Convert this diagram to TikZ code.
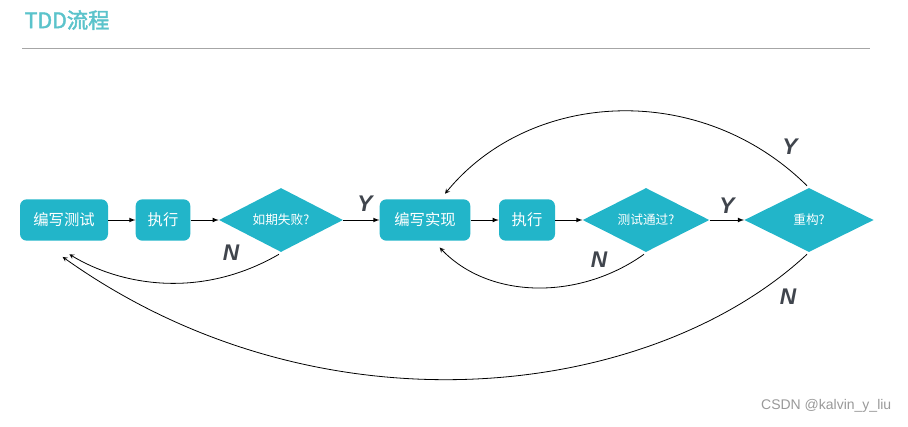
\documentclass[tikz,border=0pt]{standalone}
\usepackage{fontspec}
\setmainfont{Liberation Sans}
\newfontfamily\cjk[AutoFakeBold=2]{Noto Sans CJK SC}
\usetikzlibrary{shapes.geometric}
\definecolor{tddblue}{HTML}{22B5C9}
\definecolor{tddtitle}{HTML}{5BC3CB}
\definecolor{tddgray}{HTML}{40454D}
\tikzset{
  task/.style={fill=tddblue,rounded corners=5pt,minimum height=31pt,text=white,font=\cjk\fontsize{11.5}{12}\selectfont,inner sep=0pt},
  check/.style={diamond,fill=tddblue,aspect=1.95,minimum width=93pt,minimum height=48pt,inner sep=0pt,text=white,font=\cjk\fontsize{9.5}{10}\selectfont},
  yn/.style={font=\bfseries\itshape\fontsize{17}{17}\selectfont,text=tddgray},
  flow/.style={-latex,line width=0.6pt},
  back/.style={-stealth,line width=0.6pt}
}
\begin{document}
\begin{tikzpicture}[x=0.75pt,y=-0.75pt]
	\useasboundingbox (0,0) rectangle (908,426);
	\node[anchor=west,text=tddtitle,font=\cjk\bfseries\fontsize{16}{16}\selectfont] (title) at (20,20) {TDD流程};
	\draw[gray!70,line width=0.6pt] (22,48) -- (870,48);
	\node[task,minimum width=66pt] (test) at (64,220) {编写测试};
	\node[task,minimum width=41pt] (run1) at (163,220) {执行};
	\node[check] (fail) at (281,220) {如期失败?};
	\node[task,minimum width=68pt] (impl) at (425,220) {编写实现};
	\node[task,minimum width=42pt] (run2) at (527,220) {执行};
	\node[check,minimum width=95pt] (pass) at (646,220) {测试通过?};
	\node[check,minimum width=97pt] (refac) at (809,220) {重构?};
	\draw[flow] (test) -- (run1);
	\draw[flow] (run1) -- (fail);
	\draw[flow] (fail) -- (impl);
	\draw[flow] (impl) -- (run2);
	\draw[flow] (run2) -- (pass);
	\draw[flow] (pass) -- (refac);
	% loops back
	\draw[back] (fail.south) ++(-2,2) .. controls (200,300) and (120,285) .. ([xshift=4pt,yshift=-10pt]test.south);
	\draw[back] (pass.south) ++(-2,2) .. controls (580,300) and (490,300) .. ([xshift=11pt,yshift=-5pt]impl.south);
	\draw[back] (refac.south) ++(-2,2) .. controls (650,400) and (320,440) .. ([xshift=-1pt,yshift=-12pt]test.south);
	\draw[back] (refac.north) ++(-2,-2) .. controls (700,80) and (530,90) .. ([xshift=15pt,yshift=4pt]impl.north);
	% labels
	\node[yn] (y1) at (365,204) {Y};
	\node[yn] (n1) at (231,253) {N};
	\node[yn] (y2) at (727,206) {Y};
	\node[yn] (n2) at (599,260) {N};
	\node[yn] (y3) at (790,147) {Y};
	\node[yn] (n3) at (788,297) {N};
	\node[anchor=east,text=gray!80,font=\fontsize{10.5}{11}\selectfont] (mark) at (896,406) {CSDN @kalvin\_y\_liu};
\end{tikzpicture}
\end{document}
